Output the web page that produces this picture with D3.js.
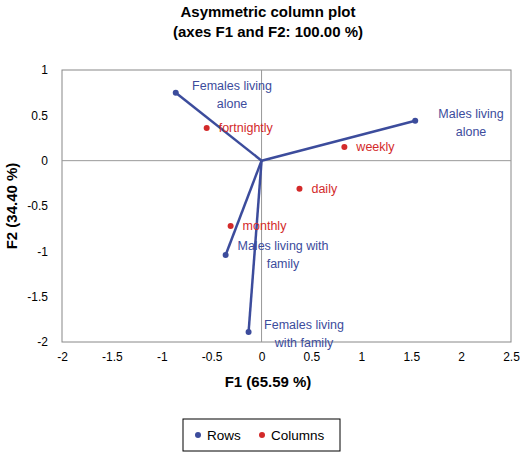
<!DOCTYPE html>
<html><head><meta charset="utf-8">
<script src="https://cdn.jsdelivr.net/npm/d3@7"></script>
<style>body{margin:0;background:#fff}text{font-family:"Liberation Sans",Arial,sans-serif}</style>
</head><body><svg id="c" width="520" height="453"></svg>
<script>
const rowLabels=[["Females living","alone"],["Males living","alone"],["Males living with","family"],["Females living","with family"]];
const rowX=[-0.86,1.54,-0.36,-0.13];
const rowY=[0.75,0.44,-1.04,-1.89];
const colLabels=["fortnightly","weekly","daily","monthly"];
const colX=[-0.55,0.83,0.38,-0.31];
const colY=[0.36,0.15,-0.31,-0.72];
const xTicks=[-2,-1.5,-1,-0.5,0,0.5,1,1.5,2,2.5];
const yTicks=[1,0.5,0,-0.5,-1,-1.5,-2];
const blue="#3c4c9c",red="#d32a2a";
const svg=d3.select("#c");
const x=d3.scaleLinear().domain([-2,2.5]).range([62,511]);
const y=d3.scaleLinear().domain([-2,1]).range([342,70]);
svg.append("text").attr("x",268).attr("y",17).attr("text-anchor","middle").attr("font-weight","bold").attr("font-size",15).text("Asymmetric column plot");
svg.append("text").attr("x",268).attr("y",37).attr("text-anchor","middle").attr("font-weight","bold").attr("font-size",15).text("(axes F1 and F2: 100.00 %)");
svg.append("rect").attr("x",62).attr("y",70).attr("width",449).attr("height",272).attr("fill","none").attr("stroke","#888");
svg.append("line").attr("x1",x(-2)).attr("x2",x(2.5)).attr("y1",y(0)).attr("y2",y(0)).attr("stroke","#999");
svg.append("line").attr("x1",x(0)).attr("x2",x(0)).attr("y1",y(1)).attr("y2",y(-2)).attr("stroke","#999");
const xa=svg.append("g").attr("transform","translate(0,342)").call(d3.axisBottom(x).tickValues(xTicks).tickSize(0).tickPadding(10).tickFormat(d=>d));
const ya=svg.append("g").attr("transform","translate(62,0)").call(d3.axisLeft(y).tickValues(yTicks).tickSize(0).tickPadding(14).tickFormat(d=>d));
[xa,ya].forEach(a=>{a.select(".domain").remove();a.selectAll("text").attr("font-size",12).attr("fill","#000").attr("font-family","Liberation Sans,Arial,sans-serif");});
svg.append("text").attr("x",268).attr("y",387).attr("text-anchor","middle").attr("font-weight","bold").attr("font-size",15).text("F1 (65.59 %)");
svg.append("text").attr("transform","translate(17,206) rotate(-90)").attr("text-anchor","middle").attr("font-weight","bold").attr("font-size",15).text("F2 (34.40 %)");
rowX.forEach((v,i)=>{
 svg.append("line").attr("x1",x(0)).attr("y1",y(0)).attr("x2",x(v)).attr("y2",y(rowY[i])).attr("stroke",blue).attr("stroke-width",2.5);
 svg.append("circle").attr("cx",x(v)).attr("cy",y(rowY[i])).attr("r",3).attr("fill",blue);
});
const rlPos=[[232,90],[471,118],[283,250],[304,329]];
rowLabels.forEach((l,i)=>{
 const t=svg.append("text").attr("text-anchor","middle").attr("fill",blue).attr("font-size",12.5);
 l.forEach((s,j)=>t.append("tspan").attr("x",rlPos[i][0]).attr("y",rlPos[i][1]+j*18).text(s));
});
colX.forEach((v,i)=>{
 svg.append("circle").attr("cx",x(v)).attr("cy",y(colY[i])).attr("r",3).attr("fill",red);
 svg.append("text").attr("x",x(v)+12).attr("y",y(colY[i])+4).attr("fill",red).attr("font-size",12.5).text(colLabels[i]);
});
svg.append("rect").attr("x",183).attr("y",419).attr("width",157).attr("height",32).attr("fill","none").attr("stroke","#000");
svg.append("circle").attr("cx",198).attr("cy",435).attr("r",3).attr("fill",blue);
svg.append("text").attr("x",207).attr("y",440).attr("font-size",13.5).text("Rows");
svg.append("circle").attr("cx",262).attr("cy",435).attr("r",3).attr("fill",red);
svg.append("text").attr("x",271).attr("y",440).attr("font-size",13.5).text("Columns");
</script></body></html>
